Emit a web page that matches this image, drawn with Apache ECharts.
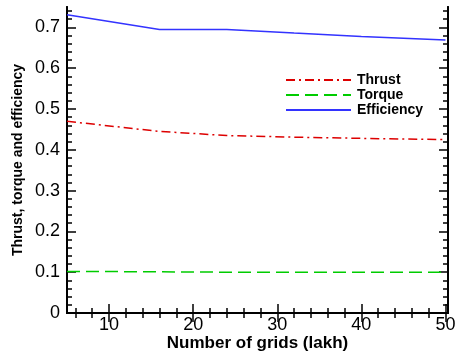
<!DOCTYPE html>
<html><head><meta charset="utf-8">
<script src="https://cdn.jsdelivr.net/npm/echarts@6/dist/echarts.min.js"></script>
<style>html,body{margin:0;padding:0;background:#fff}#c{width:455px;height:354px}</style>
</head><body><div id="c"></div>
<script>
const gridsX = [5, 16, 24, 32, 40, 50];
const thrust = [0.470, 0.445, 0.435, 0.431, 0.428, 0.425];
const torque = [0.102, 0.101, 0.100, 0.100, 0.100, 0.100];
const efficiency = [0.731, 0.695, 0.695, 0.686, 0.678, 0.669];
const xMajor = [10, 20, 30, 40, 50];
const xMinor = [6, 8, 12, 14, 16, 18, 22, 24, 26, 28, 32, 34, 36, 38, 42, 44, 46, 48];
const yMajor = [0, 0.1, 0.2, 0.3, 0.4, 0.5, 0.6, 0.7];
const yMinor = [0.02,0.04,0.06,0.08,0.12,0.14,0.16,0.18,0.22,0.24,0.26,0.28,0.32,0.34,0.36,0.38,0.42,0.44,0.46,0.48,0.52,0.54,0.56,0.58,0.62,0.64,0.66,0.68,0.72,0.74];

const F = '"Liberation Sans", Arial, sans-serif';
const axLine = {show: true, lineStyle: {color: '#000', width: 2}};
function xAx(pos, ticks, len, labels, name) {
  return {type: 'value', min: 5, max: 50.3, position: pos, gridIndex: 0,
    axisLine: axLine, splitLine: {show: false},
    axisTick: {show: true, inside: true, length: len, customValues: ticks, lineStyle: {color: '#000', width: 1.5}},
    axisLabel: labels ? {show: true, customValues: xMajor, color: '#000', fontSize: 18, fontFamily: F, margin: 3} : {show: false},
    name: name || '', nameLocation: 'middle', nameGap: 22, nameMoveOverlap: false,
    nameTextStyle: {color: '#000', fontSize: 17, fontWeight: 'bold', fontFamily: F}};
}
function yAx(pos, ticks, len, labels, name) {
  return {type: 'value', min: 0, max: 0.75, position: pos, gridIndex: 0,
    axisLine: axLine, splitLine: {show: false},
    axisTick: {show: true, inside: true, length: len, customValues: ticks, lineStyle: {color: '#000', width: 1.5}},
    axisLabel: labels ? {show: true, customValues: yMajor, color: '#000', fontSize: 18, fontFamily: F, margin: 7,
      formatter: v => v === 0 ? '0' : String(+v.toFixed(1))} : {show: false},
    name: name || '', nameLocation: 'middle', nameGap: 42, nameMoveOverlap: false,
    nameTextStyle: {color: '#000', fontSize: 14, fontWeight: 'bold', fontFamily: F}};
}
const chart = echarts.init(document.getElementById('c'));
chart.setOption({
  animation: false,
  grid: {left: 67, right: 7, top: 7, bottom: 41, containLabel: false, outerBoundsMode: 'none'},
  legend: {orient: 'vertical', left: 280, top: 68, itemWidth: 65, itemHeight: 14, itemGap: 1,
    itemStyle: {opacity: 0},
    textStyle: {fontSize: 14, lineHeight: 14, fontWeight: 'bold', fontFamily: F, color: '#000', padding: [0, 0, 0, 1]},
    data: ['Thrust', 'Torque', 'Efficiency']},
  xAxis: [
    xAx('bottom', xMajor, 9, true, 'Number of grids (lakh)'),
    xAx('bottom', xMinor, 5, false),
    xAx('top', xMajor, 9, false),
    xAx('top', xMinor, 5, false)
  ],
  yAxis: [
    yAx('left', yMajor, 9, true, 'Thrust, torque and efficiency'),
    yAx('left', yMinor, 5, false),
    yAx('right', yMajor, 9, false),
    yAx('right', yMinor, 5, false)
  ],
  series: [
    {name: 'Thrust', type: 'line', symbol: 'none', data: gridsX.map((x, i) => [x, thrust[i]]),
      lineStyle: {color: '#dd0000', width: 1.5, type: [9, 4, 2, 4]}, itemStyle: {color: '#dd0000'}},
    {name: 'Torque', type: 'line', symbol: 'none', data: gridsX.map((x, i) => [x, torque[i]]),
      lineStyle: {color: '#00cc00', width: 1.5, type: [13, 6]}, itemStyle: {color: '#00cc00'}},
    {name: 'Efficiency', type: 'line', symbol: 'none', data: gridsX.map((x, i) => [x, efficiency[i]]),
      lineStyle: {color: '#3333ff', width: 1.5}, itemStyle: {color: '#3333ff'}}
  ]
});
</script></body></html>
